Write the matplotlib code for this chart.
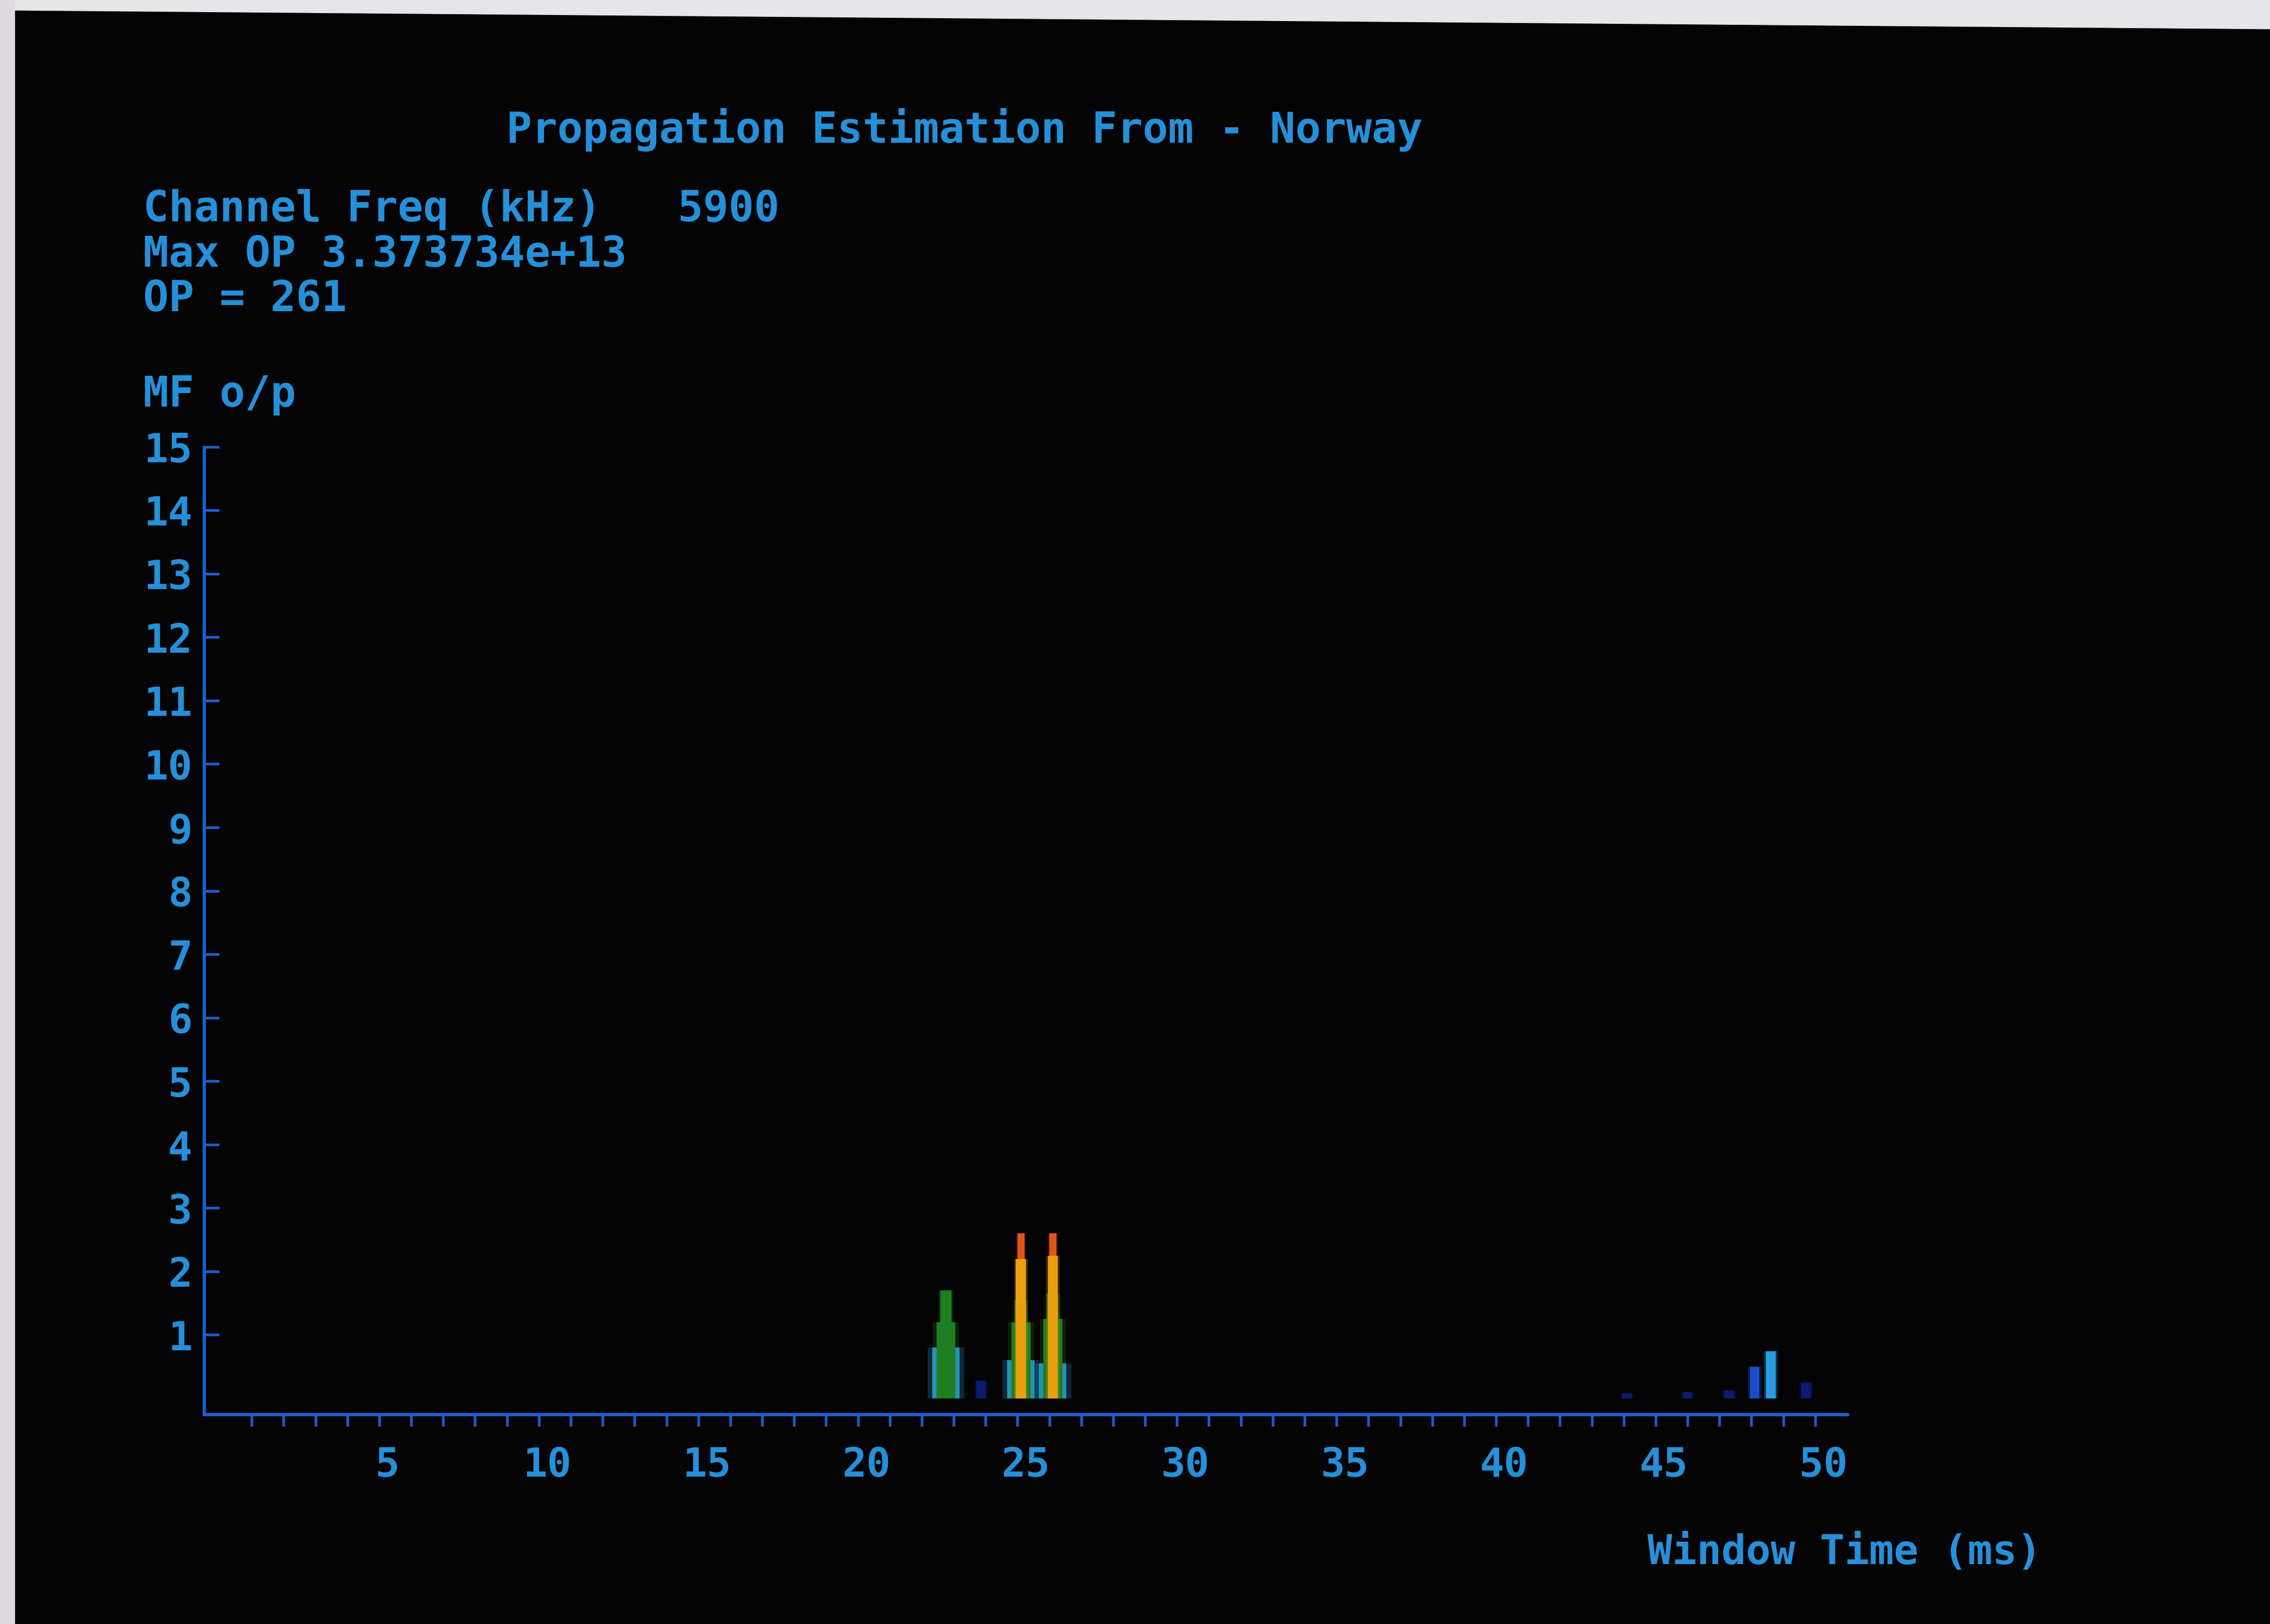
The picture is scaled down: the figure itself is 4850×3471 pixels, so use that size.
import numpy as np
import matplotlib.pyplot as plt
import matplotlib.transforms as mtransforms
from matplotlib.patches import Polygon

# main peaks (ms) and the height reached by each colour layer
peak_x = [22.75, 25.1, 26.1]
blue_h = [0.8, 0.6, 0.55]
green_lo_h = [1.2, 1.2, 1.25]
green_hi_h = [1.7, 1.55, 1.65]
orange_h = [0.0, 2.2, 2.25]
red_h = [0.0, 2.6, 2.6]

# small returns elsewhere in the window
small_x = [23.85, 44.1, 46.0, 47.3, 48.1, 48.6, 49.7]
small_h = [0.28, 0.08, 0.1, 0.12, 0.5, 0.74, 0.25]
small_c = ['#0c1a70', '#0c1a70', '#0c1a70', '#0c1a70', '#1a4cc8', '#2a9be0', '#0c1a70']

x_ticks = list(range(1, 51))
x_labels = [str(t) if t % 5 == 0 else '' for t in x_ticks]
y_ticks = list(range(1, 16))

txt_c = '#2590da'
axis_c = '#1a5fcf'
bg = '#040404'
mono = 'DejaVu Sans Mono'

fig = plt.figure(figsize=(48.5, 34.71), dpi=100, facecolor=bg)
ax = fig.add_axes([0.0899, 0.1292, 0.8138 - 0.0899, 0.7246 - 0.1292])
ax.set_facecolor(bg)

# nested bars: wide low blue, then green, orange and a red tip (with a faint crt glow)
layers = [(blue_h, 0.85, '#2a9ad8', 2), (green_lo_h, 0.6, '#1f7d22', 3),
          (green_hi_h, 0.35, '#1f7d22', 3), (red_h, 0.22, '#e0561a', 4),
          (orange_h, 0.32, '#e8a010', 5)]
for h, w, c, z in layers:
    ax.bar(peak_x, h, width=w * 1.35, color=c, alpha=0.25, zorder=z - 0.5, linewidth=0)
    ax.bar(peak_x, h, width=w, color=c, zorder=z, linewidth=0)
ax.bar(small_x, small_h, width=0.42, color=small_c, alpha=0.3, zorder=1.5, linewidth=0)
ax.bar(small_x, small_h, width=0.3, color=small_c, zorder=2, linewidth=0)

ax.set_xlim(-0.5, 51)
ax.set_ylim(-0.25, 15)

for s in ['top', 'right']:
    ax.spines[s].set_visible(False)
for s in ['left', 'bottom']:
    ax.spines[s].set_color(axis_c)
    ax.spines[s].set_linewidth(5)

ax.set_xticks(x_ticks)
ax.set_xticklabels(x_labels)
ax.set_yticks(y_ticks)
ax.set_yticklabels([str(t) for t in y_ticks])
ax.tick_params(axis='x', direction='out', length=19, width=4, color=axis_c,
               labelcolor=txt_c, labelsize=62, pad=30)
ax.tick_params(axis='y', direction='in', length=24, width=4, color=axis_c,
               labelcolor=txt_c, labelsize=62, pad=18)
shift = mtransforms.ScaledTranslation(0.17, 0, fig.dpi_scale_trans)
for lab in ax.get_xticklabels():
    lab.set_transform(lab.get_transform() + shift)
for lab in ax.get_xticklabels() + ax.get_yticklabels():
    lab.set_family(mono)
    lab.set_fontweight('bold')

fig.text(0.425, 0.920, 'Propagation Estimation From - Norway', ha='center', va='center',
         fontsize=65, color=txt_c, family=mono, fontweight='bold')
fig.text(0.0631, 0.8708, 'Channel Freq (kHz)   5900', ha='left', va='center',
         fontsize=65, color=txt_c, family=mono, fontweight='bold')
fig.text(0.0631, 0.8431, 'Max OP 3.373734e+13', ha='left', va='center',
         fontsize=65, color=txt_c, family=mono, fontweight='bold')
fig.text(0.0631, 0.8155, 'OP = 261', ha='left', va='center',
         fontsize=65, color=txt_c, family=mono, fontweight='bold')
fig.text(0.0631, 0.7567, 'MF o/p', ha='left', va='center',
         fontsize=65, color=txt_c, family=mono, fontweight='bold')
fig.text(0.7258, 0.0437, 'Window Time (ms)', ha='left', va='center',
         fontsize=63, color=txt_c, family=mono, fontweight='bold')

# light edge of the photo around the screen
fig.patches.append(Polygon([(0, 1), (1, 1), (1, 1 - 0.0178), (0, 1 - 0.0062)],
                           closed=True, transform=fig.transFigure, color='#e6e5e9', zorder=0))
fig.patches.append(Polygon([(0, 0), (0.0064, 0), (0.0064, 1), (0, 1)],
                           closed=True, transform=fig.transFigure, color='#dcdadf', zorder=0))

plt.savefig('out.png', dpi=100, facecolor=bg)
